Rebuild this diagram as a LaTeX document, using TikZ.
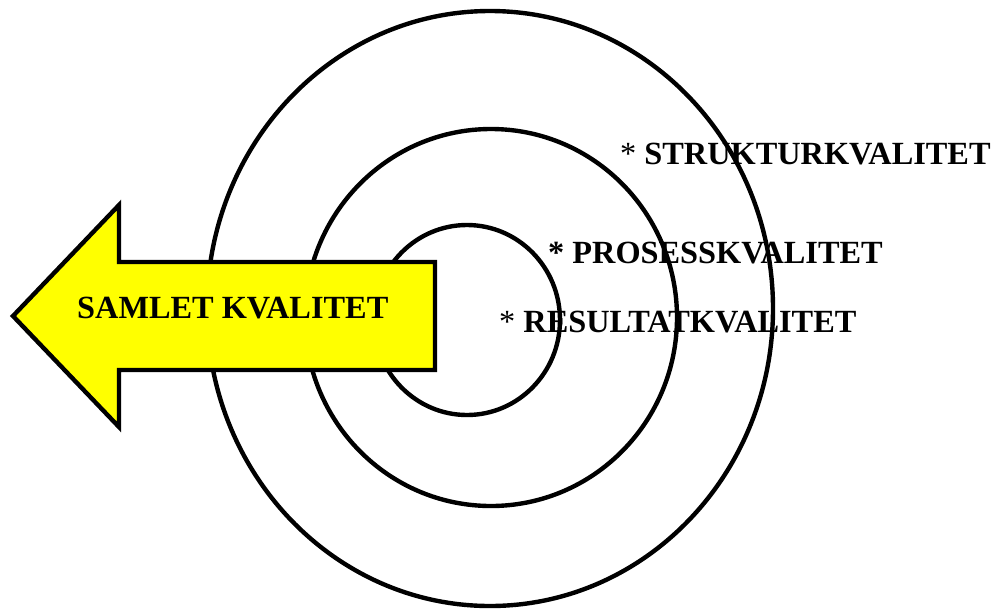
\documentclass[tikz,border=0pt]{standalone}
\usepackage{fontspec}
\setmainfont{Liberation Serif}
\definecolor{arrowyellow}{RGB}{255,255,0}
\begin{document}
\begin{tikzpicture}[x=0.02cm, y=-0.02cm, line width=2.5pt,
    lbl/.style={anchor=base west, inner sep=0pt, font=\fontsize{18.4}{20}\selectfont}]
    \useasboundingbox (0,0) rectangle (994,609);

    % the three rings
    \draw (490,308.5) ellipse [x radius=283, y radius=297.5];
    \draw (491,317.5) ellipse [x radius=186, y radius=188.5];
    \draw (467,320) ellipse [x radius=93, y radius=95];

    % the arrow
    \draw[fill=arrowyellow, line join=miter] (13,316)--(119,205)--(119,262)--(435,262)--(435,370)--(119,370)--(119,427)--cycle;
    \node[lbl, font=\fontsize{18.4}{20}\selectfont\bfseries] (samlet) at (75,318) {SAMLET KVALITET};

    \node[lbl] (struktur) at (618,164) {* \textbf{STRUKTURKVALITET}};
    \node[lbl] (prosess) at (546,263) {\textbf{* PROSESSKVALITET}};
    \node[lbl] (resultat) at (497,332) {* \textbf{RESULTATKVALITET}};
\end{tikzpicture}
\end{document}
